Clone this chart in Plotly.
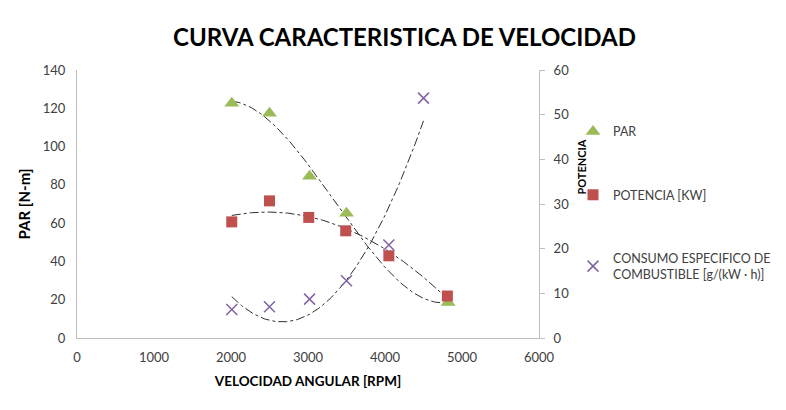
import numpy as np
import plotly.graph_objects as go

# Data
rpm_par = [2010, 2500, 3020, 3500, 4820]
par = [122.6, 117.4, 84.5, 65.2, 18.5]

rpm_pot = [2010, 2500, 3010, 3490, 4050, 4810]
potencia = [26.0, 30.7, 27.0, 24.0, 18.4, 9.4]

rpm_cons = [2010, 2500, 3020, 3500, 4050, 4500]
consumo = [6.4, 7.0, 8.7, 12.8, 20.8, 53.7]

x_ticks = [0, 1000, 2000, 3000, 4000, 5000, 6000]

GREEN = "#9BBB59"
RED = "#C0504D"
PURPLE = "#8064A2"
TXT = "#404040"
FONT = "Lato"


def trend(x, y, order):
    c = np.polyfit(x, y, order)
    xs = np.linspace(min(x), max(x), 120)
    return xs, np.polyval(c, xs)


fig = go.Figure()

# polynomial trendlines (as in the spreadsheet chart)
for xs_, ys_, order, ax in [(rpm_par, par, 3, "y"), (rpm_pot, potencia, 2, "y2"), (rpm_cons, consumo, 2, "y2")]:
    tx, ty = trend(xs_, ys_, order)
    fig.add_trace(go.Scatter(x=tx, y=ty, mode="lines", yaxis=ax, showlegend=False,
                             line=dict(color="#303030", width=1, dash="dashdot"), hoverinfo="skip"))

fig.add_trace(go.Scatter(x=rpm_par, y=par, mode="markers", name="PAR", legendgroup="a",
                         marker=dict(symbol="triangle-up", size=13, color=GREEN)))
fig.add_trace(go.Scatter(x=rpm_pot, y=potencia, mode="markers", name="POTENCIA [KW]", yaxis="y2", legendgroup="b",
                         marker=dict(symbol="square", size=11, color=RED)))
fig.add_trace(go.Scatter(x=rpm_cons, y=consumo, mode="markers", yaxis="y2", legendgroup="c",
                         name="CONSUMO ESPECIFICO DE<br>COMBUSTIBLE [g/(kW · h)]",
                         marker=dict(symbol="x-thin-open", size=11, color=PURPLE, line=dict(color=PURPLE, width=1.5))))

fig.update_layout(
    width=770, height=394,
    margin=dict(l=69, r=239, t=62, b=64, autoexpand=False),
    paper_bgcolor="white", plot_bgcolor="white",
    font=dict(family=FONT, size=12, color=TXT),
    title=dict(text="<b>CURVA CARACTERISTICA DE VELOCIDAD</b>", x=0.515, xanchor="center", y=0.924, yanchor="middle",
               font=dict(size=24, color="#000000", family=FONT)),
    xaxis=dict(range=[0, 6000], tickvals=x_ticks, showgrid=False, zeroline=False,
               showline=True, linecolor="#BFBFBF", linewidth=1, ticks="", ticklabelstandoff=7,
               tickfont=dict(size=13, color=TXT),
               title=dict(text="<b>VELOCIDAD ANGULAR [RPM]</b>", font=dict(size=13.5, color="#000000"), standoff=12)),
    yaxis=dict(range=[0, 140], dtick=20, showgrid=False, zeroline=False,
               showline=True, linecolor="#BFBFBF", linewidth=1, ticks="", ticklabelstandoff=8,
               tickfont=dict(size=13, color=TXT),
               title=dict(text="<b>PAR [N-m]</b>", font=dict(size=15, color="#000000"), standoff=8)),
    yaxis2=dict(range=[0, 60], dtick=10, overlaying="y", side="right", showgrid=False, zeroline=False,
                showline=True, linecolor="#BFBFBF", linewidth=1, ticks="outside", ticklen=5, tickcolor="#BFBFBF",
                ticklabelstandoff=6, tickfont=dict(size=13, color=TXT)),
    annotations=[dict(text="<b>POTENCIA</b>", xref="paper", yref="paper", x=1.09, y=0.638, xanchor="center",
                      yanchor="middle", textangle=-90, showarrow=False, font=dict(size=11, color="#000000"))],
    legend=dict(x=1.0736, y=0.825, xanchor="left", yanchor="top", tracegroupgap=44, itemwidth=30,
                font=dict(size=12.5, color=TXT), bgcolor="rgba(0,0,0,0)"),
    showlegend=True,
)

fig.write_html("out.html")
